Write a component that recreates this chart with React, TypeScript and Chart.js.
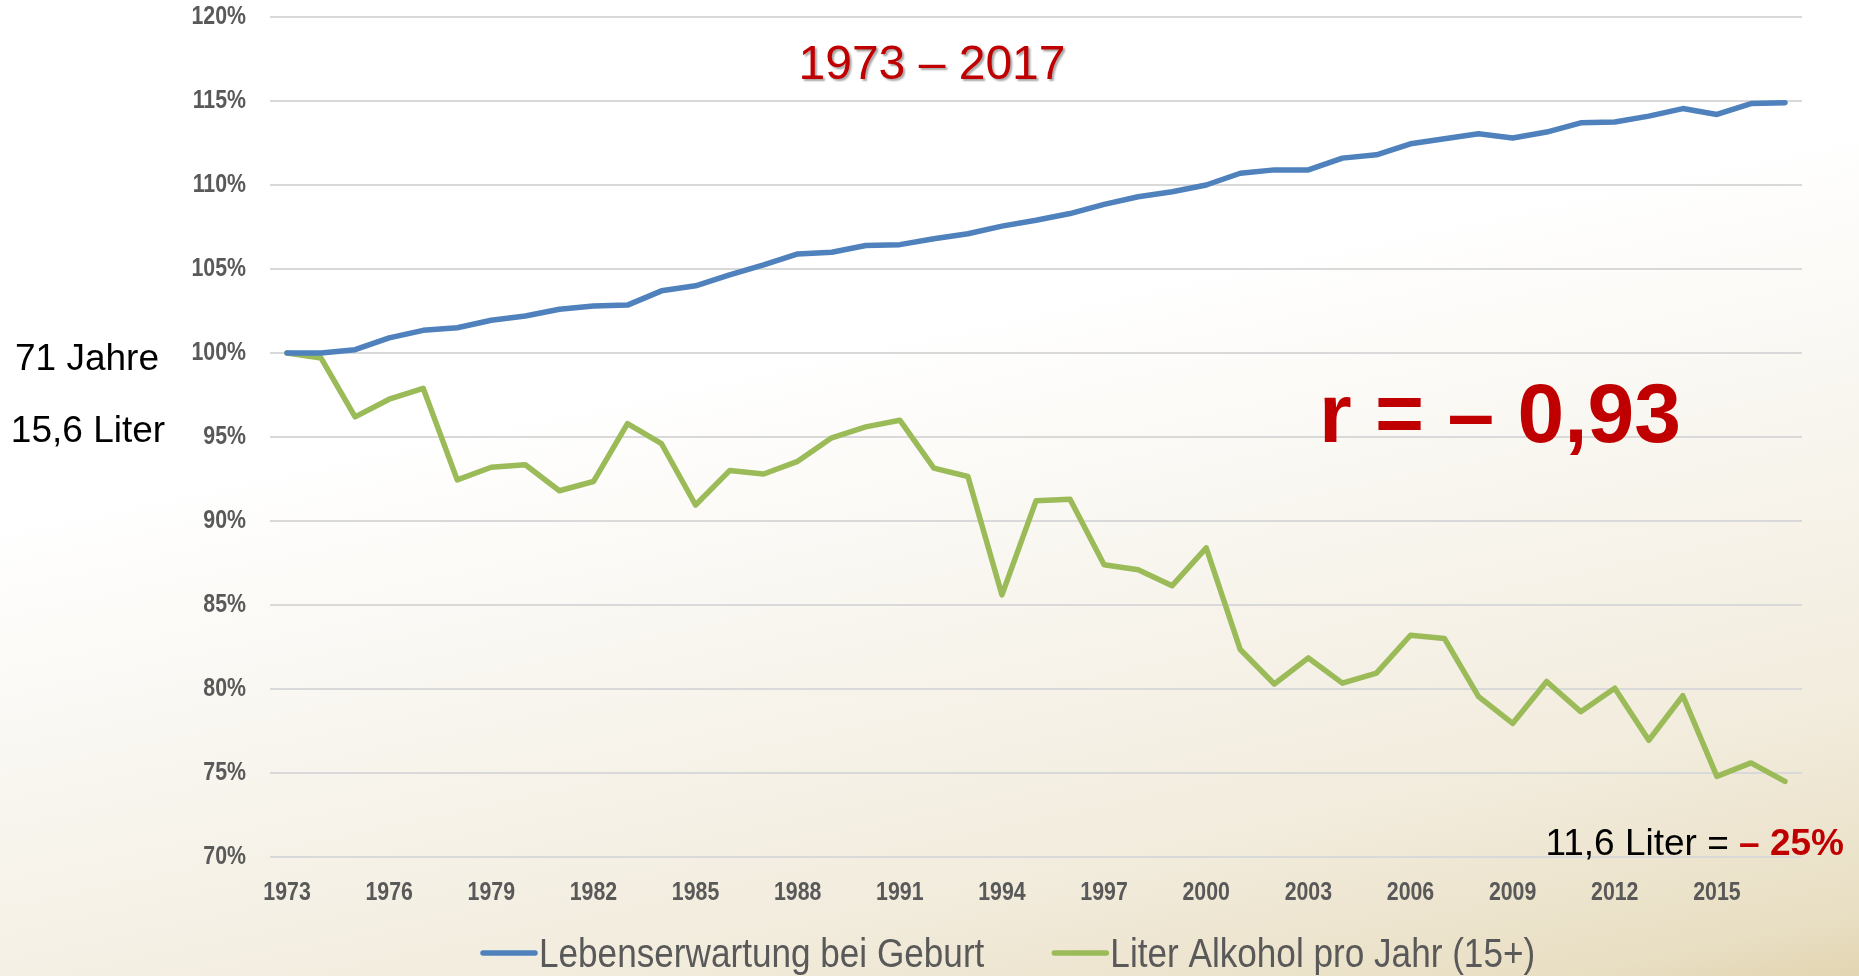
import React, { useEffect, useRef } from 'react';
import { Chart, registerables } from 'chart.js';

Chart.register(...registerables);

const years = [
  '1973', '1974', '1975', '1976', '1977', '1978', '1979', '1980', '1981', '1982',
  '1983', '1984', '1985', '1986', '1987', '1988', '1989', '1990', '1991', '1992',
  '1993', '1994', '1995', '1996', '1997', '1998', '1999', '2000', '2001', '2002',
  '2003', '2004', '2005', '2006', '2007', '2008', '2009', '2010', '2011', '2012',
  '2013', '2014', '2015', '2016', '2017',
];

const xTickLabels = ['1973', '1976', '1979', '1982', '1985', '1988', '1991', '1994', '1997', '2000', '2003', '2006', '2009', '2012', '2015'];

const lifeExpectancy = [
  100.0, 100.0, 100.2, 100.9, 101.35, 101.5, 101.95, 102.2, 102.6, 102.8,
  102.85, 103.7, 104.0, 104.65, 105.25, 105.9, 106.0, 106.4, 106.45, 106.8,
  107.1, 107.55, 107.9, 108.3, 108.85, 109.3, 109.6, 110.0, 110.7, 110.9,
  110.9, 111.6, 111.8, 112.45, 112.75, 113.05, 112.8, 113.15, 113.7, 113.75,
  114.1, 114.55, 114.2, 114.85, 114.9,
];

const alcohol = [
  100.0, 99.7, 96.2, 97.25, 97.9, 92.45, 93.2, 93.35, 91.8, 92.35,
  95.8, 94.6, 90.95, 93.0, 92.8, 93.55, 94.95, 95.6, 96.0, 93.15,
  92.65, 85.6, 91.2, 91.3, 87.4, 87.1, 86.15, 88.4, 82.35, 80.3,
  81.85, 80.35, 80.95, 83.2, 83.0, 79.55, 77.95, 80.45, 78.65, 80.05,
  76.95, 79.6, 74.8, 75.6, 74.5,
];

const seriesLabels = ['Lebenserwartung bei Geburt', 'Liter Alkohol pro Jahr (15+)'];
const seriesColors = ['#4F81BD', '#9BBB59'];

const yMin = 70;
const yMax = 120;
const yStep = 5;

const periodText = '1973 – 2017';
const correlationText = 'r = – 0,93';
const startLifeText = '71 Jahre';
const startAlcoholText = '15,6 Liter';
const endAlcoholText = '11,6 Liter = ';
const endChangeText = '– 25%';

const ARIAL = '"Liberation Sans", Arial, sans-serif';
const TICK_SCALE = 0.82;
const LEGEND_SCALE = 0.857;
const TICK_COLOR = '#595959';

function narrowText(ctx: CanvasRenderingContext2D, text: string, x: number, y: number, sx: number) {
  ctx.save();
  ctx.translate(x, y);
  ctx.scale(sx, 1);
  ctx.fillText(text, 0, 0);
  ctx.restore();
}

const narrowTicksPlugin = {
  id: 'narrowTicks',
  afterDraw(chart: any) {
    const ctx = chart.ctx as CanvasRenderingContext2D;
    const xs = chart.scales.x;
    const ys = chart.scales.y;
    ctx.save();
    ctx.font = `bold 26px ${ARIAL}`;
    ctx.fillStyle = TICK_COLOR;
    ctx.textAlign = 'right';
    ctx.textBaseline = 'middle';
    ys.ticks.forEach((t: any) => {
      narrowText(ctx, `${t.value}%`, chart.chartArea.left - 24, ys.getPixelForValue(t.value), TICK_SCALE);
    });
    ctx.textAlign = 'center';
    ctx.textBaseline = 'middle';
    xs.ticks.forEach((t: any, i: number) => {
      const lab = chart.data.labels[t.value];
      if (xTickLabels.includes(lab)) {
        narrowText(ctx, lab, xs.getPixelForTick(i), chart.chartArea.bottom + 36, TICK_SCALE);
      }
    });
    ctx.restore();
  },
};

const annotationPlugin = {
  id: 'annotations',
  afterDraw(chart: any) {
    const ctx = chart.ctx as CanvasRenderingContext2D;
    ctx.save();
    ctx.font = `48px ${ARIAL}`;
    ctx.textAlign = 'center';
    ctx.textBaseline = 'alphabetic';
    ctx.shadowColor = 'rgba(0,0,0,0.35)';
    ctx.shadowOffsetX = 2;
    ctx.shadowOffsetY = 2;
    ctx.shadowBlur = 2;
    ctx.fillStyle = '#C00000';
    ctx.fillText(periodText, 932, 79);
    ctx.shadowColor = 'transparent';

    ctx.font = `bold 84px ${ARIAL}`;
    ctx.fillStyle = '#C00000';
    ctx.fillText(correlationText, 1500, 442);

    ctx.font = `37px ${ARIAL}`;
    ctx.fillStyle = '#000000';
    ctx.fillText(startLifeText, 87, 370);
    ctx.fillText(startAlcoholText, 88, 442);

    ctx.textAlign = 'left';
    ctx.font = `bold 37px ${ARIAL}`;
    const wRed = ctx.measureText(endChangeText).width;
    ctx.font = `37px ${ARIAL}`;
    const wBlack = ctx.measureText(endAlcoholText).width;
    const right = 1844;
    ctx.fillStyle = '#000000';
    ctx.fillText(endAlcoholText, right - wRed - wBlack, 855);
    ctx.font = `bold 37px ${ARIAL}`;
    ctx.fillStyle = '#C00000';
    ctx.fillText(endChangeText, right - wRed, 855);

    // legend
    ctx.font = `41px ${ARIAL}`;
    ctx.textAlign = 'left';
    ctx.textBaseline = 'alphabetic';
    let x = 480;
    const yLine = 953;
    chart.data.datasets.forEach((ds: any) => {
      ctx.strokeStyle = ds.borderColor;
      ctx.lineWidth = 5.5;
      ctx.lineCap = 'round';
      ctx.beginPath();
      ctx.moveTo(x + 3, yLine);
      ctx.lineTo(x + 55, yLine);
      ctx.stroke();
      x += 59;
      ctx.fillStyle = TICK_COLOR;
      narrowText(ctx, ds.label, x, 967, LEGEND_SCALE);
      x += ctx.measureText(ds.label).width * LEGEND_SCALE + 67;
    });
    ctx.restore();
  },
};

export default function App() {
  const canvasRef = useRef<HTMLCanvasElement | null>(null);

  useEffect(() => {
    if (!canvasRef.current) return;
    const chart = new Chart(canvasRef.current, {
      type: 'line',
      data: {
        labels: years,
        datasets: [
          {
            label: seriesLabels[0],
            data: lifeExpectancy,
            borderColor: seriesColors[0],
            backgroundColor: seriesColors[0],
            borderWidth: 5.5,
            pointRadius: 0,
            tension: 0,
            borderCapStyle: 'round',
            borderJoinStyle: 'round',
          },
          {
            label: seriesLabels[1],
            data: alcohol,
            borderColor: seriesColors[1],
            backgroundColor: seriesColors[1],
            borderWidth: 5.5,
            pointRadius: 0,
            tension: 0,
            borderCapStyle: 'round',
            borderJoinStyle: 'round',
          },
        ],
      },
      options: {
        animation: false,
        responsive: false,
        devicePixelRatio: 1,
        layout: { padding: { left: 0, right: 57, top: 17, bottom: 49 } },
        plugins: {
          legend: { display: false },
          tooltip: { enabled: false },
          title: { display: false },
        },
        scales: {
          x: {
            type: 'category',
            offset: true,
            grid: { display: false, drawTicks: false },
            border: { display: false },
            ticks: { display: false, autoSkip: false },
            afterFit: (scale: any) => {
              scale.height = 70;
              scale.paddingLeft = 0;
              scale.paddingRight = 0;
            },
          },
          y: {
            type: 'linear',
            min: yMin,
            max: yMax,
            grid: { color: '#D9D9D9', lineWidth: 2, drawTicks: false },
            border: { display: false },
            ticks: { display: false, stepSize: yStep },
            afterFit: (scale: any) => {
              scale.width = 270;
              scale.paddingTop = 0;
              scale.paddingBottom = 0;
            },
          },
        },
      },
      plugins: [narrowTicksPlugin, annotationPlugin],
    });
    return () => chart.destroy();
  }, []);

  return (
    <div
      style={{
        position: 'absolute',
        left: 0,
        top: 0,
        width: 1859,
        height: 976,
        overflow: 'hidden',
        background:
          'linear-gradient(168deg, #FFFFFF 0%, #FFFFFF 38%, #F8F5EE 60%, #F2ECDD 80%, #E9DFC4 95%, #E2D5B2 100%)',
      }}
    >
      <canvas ref={canvasRef} width={1859} height={976} style={{ display: 'block', width: 1859, height: 976 }} />
    </div>
  );
}
